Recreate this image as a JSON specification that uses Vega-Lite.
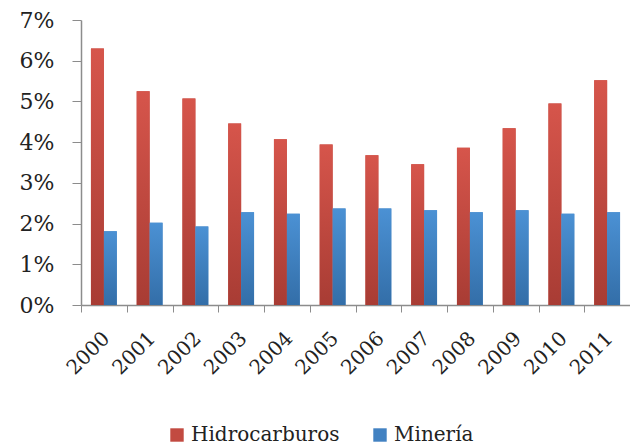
{
  "$schema": "https://vega.github.io/schema/vega-lite/v6.json",
  "autosize": "none",
  "width": 549,
  "height": 285,
  "padding": {"left": 81, "top": 20, "right": 0, "bottom": 143},
  "background": "white",
  "config": {
    "view": {"stroke": null},
    "font": "DejaVu Serif"
  },
  "data": {
    "values": [
      {"year": "2000", "series": "Hidrocarburos", "value": 6.30},
      {"year": "2001", "series": "Hidrocarburos", "value": 5.25},
      {"year": "2002", "series": "Hidrocarburos", "value": 5.07},
      {"year": "2003", "series": "Hidrocarburos", "value": 4.46},
      {"year": "2004", "series": "Hidrocarburos", "value": 4.07},
      {"year": "2005", "series": "Hidrocarburos", "value": 3.94},
      {"year": "2006", "series": "Hidrocarburos", "value": 3.68},
      {"year": "2007", "series": "Hidrocarburos", "value": 3.46},
      {"year": "2008", "series": "Hidrocarburos", "value": 3.86},
      {"year": "2009", "series": "Hidrocarburos", "value": 4.34},
      {"year": "2010", "series": "Hidrocarburos", "value": 4.95},
      {"year": "2011", "series": "Hidrocarburos", "value": 5.52},
      {"year": "2000", "series": "Minería", "value": 1.81},
      {"year": "2001", "series": "Minería", "value": 2.02},
      {"year": "2002", "series": "Minería", "value": 1.93},
      {"year": "2003", "series": "Minería", "value": 2.28},
      {"year": "2004", "series": "Minería", "value": 2.24},
      {"year": "2005", "series": "Minería", "value": 2.37},
      {"year": "2006", "series": "Minería", "value": 2.37},
      {"year": "2007", "series": "Minería", "value": 2.33},
      {"year": "2008", "series": "Minería", "value": 2.28},
      {"year": "2009", "series": "Minería", "value": 2.33},
      {"year": "2010", "series": "Minería", "value": 2.24},
      {"year": "2011", "series": "Minería", "value": 2.28}
    ]
  },
  "encoding": {
    "x": {
      "field": "year", "type": "nominal",
      "scale": {"paddingInner": 0, "paddingOuter": 0},
      "axis": {
        "title": null, "labelAngle": -45, "labelFontSize": 20, "labelColor": "#222",
        "domainColor": "#8c8c8c", "tickColor": "#8c8c8c", "tickSize": 7, "tickBand": "extent",
        "labelPadding": 16, "labelOffset": -5, "domainWidth": 1.5
      }
    },
    "xOffset": {
      "field": "series", "type": "nominal",
      "scale": {"paddingInner": 0, "paddingOuter": 0.77}
    },
    "y": {
      "field": "value", "type": "quantitative",
      "scale": {"domain": [0, 7], "nice": false},
      "axis": {
        "title": null, "values": [0, 1, 2, 3, 4, 5, 6, 7], "grid": false,
        "labelExpr": "datum.value + '%'", "labelFontSize": 22, "labelColor": "#222",
        "domainColor": "#8c8c8c", "tickColor": "#8c8c8c", "tickSize": 9, "labelPadding": 18,
        "domainWidth": 1.5
      }
    }
  },
  "layer": [
    {
      "mark": {"type": "bar"},
      "encoding": {
        "color": {
          "field": "series", "type": "nominal",
          "scale": {"domain": ["Hidrocarburos", "Minería"], "range": ["#c24a41", "#4282c2"]},
          "legend": {
            "title": null, "orient": "none", "direction": "horizontal",
            "legendX": 86, "legendY": 405, "symbolType": "square", "symbolSize": 180,
            "labelFontSize": 20, "labelColor": "#222", "columnPadding": 30, "labelOffset": 4,
            "symbolStrokeWidth": 0
          }
        }
      }
    },
    {
      "transform": [{"filter": "datum.series === 'Hidrocarburos'"}],
      "mark": {
        "type": "bar",
        "color": {
          "gradient": "linear", "x1": 0, "y1": 0, "x2": 0, "y2": 1,
          "stops": [{"offset": 0, "color": "#d6554b"}, {"offset": 1, "color": "#a83c34"}]
        }
      }
    },
    {
      "transform": [{"filter": "datum.series === 'Minería'"}],
      "mark": {
        "type": "bar",
        "color": {
          "gradient": "linear", "x1": 0, "y1": 0, "x2": 0, "y2": 1,
          "stops": [{"offset": 0, "color": "#4b91d4"}, {"offset": 1, "color": "#336ea8"}]
        }
      }
    }
  ]
}
